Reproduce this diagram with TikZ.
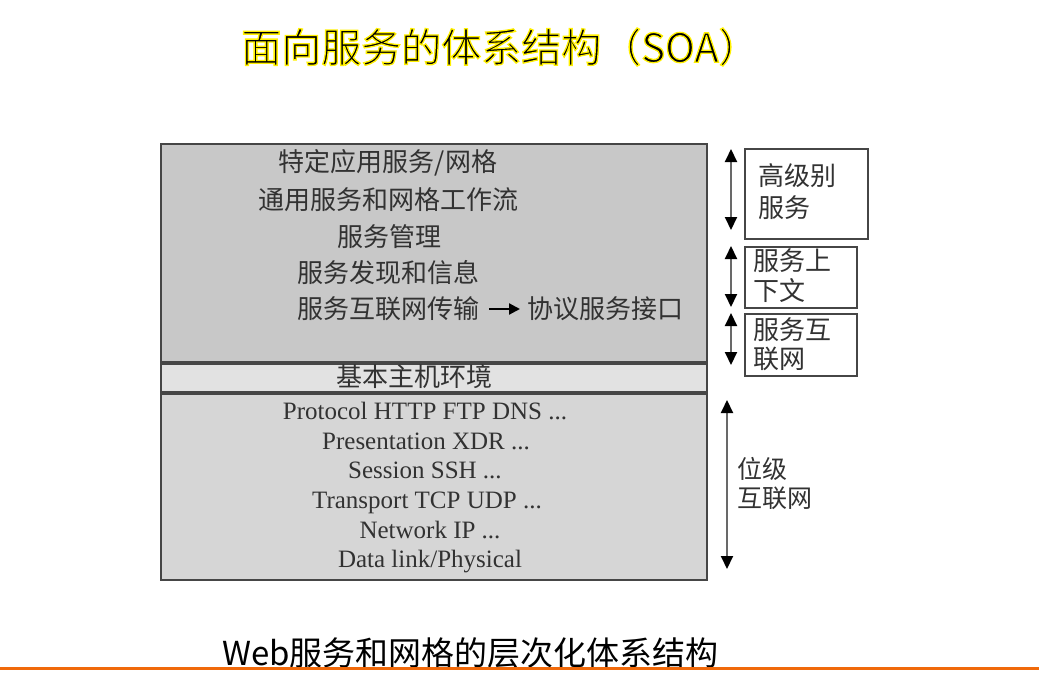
\documentclass[tikz,border=0pt]{standalone}
\usepackage{fontspec}
\setmainfont{Liberation Serif}
\newfontfamily\cjk{Noto Sans CJK SC}
\usetikzlibrary{arrows.meta}
\definecolor{panelgray}{RGB}{200,200,200}
\definecolor{stripgray}{RGB}{226,226,226}
\definecolor{lowgray}{RGB}{214,214,214}
\definecolor{edgegray}{RGB}{70,70,70}
\definecolor{inkgray}{RGB}{50,50,50}
\definecolor{shaftgray}{RGB}{105,105,105}
\definecolor{rulerorange}{RGB}{240,105,10}
% outlined heading: fill black, stroke yellow
\newcommand{\haloed}[1]{\special{pdf:literal direct 2 Tr 1.3 w 1 0.94 0 RG}#1\special{pdf:literal direct 0 Tr}}
\begin{document}
\begin{tikzpicture}[x=1pt,y=-1pt,
  panel/.style={draw=edgegray, line width=1.5pt, anchor=north west, inner sep=0pt},
  tagbox/.style={draw=edgegray, line width=1.8pt, fill=white, anchor=north west, inner sep=0pt},
  cjktext/.style={font=\cjk\fontsize{26}{30}\selectfont, text=inkgray, inner sep=0pt},
  protext/.style={font=\fontsize{25}{28}\selectfont, text=inkgray, inner sep=0pt, anchor=base},
  sidetext/.style={font=\cjk\fontsize{26}{31}\selectfont, text=inkgray, inner sep=0pt, anchor=north west, align=left},
  span/.style={draw=shaftgray, line width=2pt, {Triangle[length=13pt,width=12pt,color=black]}-{Triangle[length=13pt,width=12pt,color=black]}},
]
\useasboundingbox (0,0) rectangle (1039,677);

% heading
\node[font=\cjk\fontsize{40}{44}\selectfont, text=black, inner sep=0pt] (title) at (500,47) {\haloed{面向服务的体系结构（SOA）}};

% layer stack
\node[panel, fill=panelgray, minimum width=546pt, minimum height=218pt] (upper) at (160,143) {};
\node[panel, fill=stripgray, minimum width=546pt, minimum height=28pt] (strip) at (160,363) {};
\node[panel, fill=lowgray, minimum width=546pt, minimum height=186pt] (lower) at (160,393) {};

% service layers
\node[cjktext] (l1) at (388,163) {特定应用服务/网格};
\node[cjktext] (l2) at (388,200) {通用服务和网格工作流};
\node[cjktext] (l3) at (389,237) {服务管理};
\node[cjktext] (l4) at (388,273) {服务发现和信息};
\node[cjktext] (l5) at (388,309) {服务互联网传输};
\node[cjktext, anchor=west] (l6) at (527,309) {协议服务接口};
\draw[line width=2.2pt, shorten <=10pt, shorten >=7pt, -{Triangle[length=11pt,width=11pt]}] (l5.east) -- (l6.west);
\node[cjktext] (host) at (414,377) {基本主机环境};

% protocol layers
\node[protext] (p1) at (425,419) {Protocol HTTP FTP DNS ...};
\node[protext] (p2) at (426,449) {Presentation XDR ...};
\node[protext] (p3) at (425,478) {Session SSH ...};
\node[protext] (p4) at (427,508) {Transport TCP UDP ...};
\node[protext] (p5) at (430,538) {Network IP ...};
\node[protext] (p6) at (430,567) {Data link/Physical};

% side brackets
\coordinate (a1t) at (731,149); \coordinate (a1b) at (731,230);
\coordinate (a2t) at (731,246); \coordinate (a2b) at (731,307);
\coordinate (a3t) at (731,313); \coordinate (a3b) at (731,365);
\coordinate (a4t) at (727,400); \coordinate (a4b) at (727,569);
\draw[span] (a1t) -- (a1b);
\draw[span] (a2t) -- (a2b);
\draw[span] (a3t) -- (a3b);
\draw[span] (a4t) -- (a4b);

\node[tagbox, minimum width=123pt, minimum height=90pt] (b1) at (744,148) {};
\node[sidetext, font=\cjk\fontsize{26}{32}\selectfont] (t1) at (758,163) {高级别\\服务};
\node[tagbox, minimum width=112pt, minimum height=61pt] (b2) at (744,246) {};
\node[sidetext, font=\cjk\fontsize{26}{30}\selectfont] (t2) at (753,248) {服务上\\下文};
\node[tagbox, minimum width=112pt, minimum height=62pt] (b3) at (744,313) {};
\node[sidetext, font=\cjk\fontsize{26}{29}\selectfont] (t3) at (753,317) {服务互\\联网};
\node[sidetext, font=\cjk\fontsize{25}{29}\selectfont] (t4) at (737,457) {位级\\互联网};

% caption and rule
\node[font=\cjk\fontsize{33}{36}\selectfont, text=black, inner sep=0pt, anchor=west] (caption) at (222,653) {Web服务和网格的层次化体系结构};
\coordinate (ruleL) at (0,668); \coordinate (ruleR) at (1039,668);
\draw[rulerorange, line width=3pt] (ruleL) -- (ruleR);
\end{tikzpicture}
\end{document}
